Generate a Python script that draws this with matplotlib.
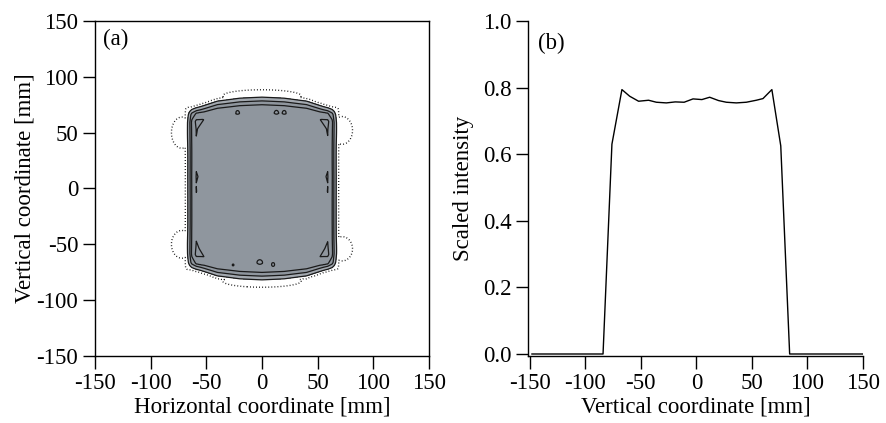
import matplotlib
matplotlib.use("Agg")
import matplotlib.pyplot as plt
import numpy as np

plt.rcParams['font.family'] = ['Liberation Serif', 'DejaVu Serif']
plt.rcParams['font.size'] = 16.5
plt.rcParams['axes.unicode_minus'] = False

# (b) vertical profile through the centre
prof_y = [-148, -84, -76, -67, -60, -52, -43, -36, -27, -19, -11, -3,
          5, 12, 20, 27, 36, 45, 54, 60, 68, 76, 84, 150]
prof_v = [0.0, 0.0, 0.63, 0.794, 0.774, 0.759, 0.762, 0.756, 0.754, 0.757,
          0.756, 0.766, 0.764, 0.771, 0.761, 0.756, 0.754, 0.756, 0.762,
          0.767, 0.794, 0.625, 0.0, 0.0]

# (a) horizontal edge profile and top/bottom bowing
hor_x = [-150, -69, -66, -63, -59, -52, -40, 0, 40, 52, 59, 63, 66, 69, 150]
hor_v = [0.0, 0.0, 0.25, 0.66, 0.80, 0.77, 0.76, 0.76, 0.76, 0.77, 0.80,
         0.66, 0.25, 0.0, 0.0]
bow_x = [-150, -64, -55, -40, -20, 0, 20, 40, 55, 64, 150]
bow_s = [0.87, 0.87, 0.90, 0.96, 0.99, 1.0, 0.99, 0.96, 0.90, 0.87, 0.87]

# weak halo lobes and small spots seen in the contour map
lobe_x = [-72, 72, -72, 72, 0, 0]
lobe_y = [50, 52, -50, -54, 83, -83]
lobe_sx = [6.0, 6.0, 6.0, 6.0, 26.0, 26.0]
lobe_sy = [9.0, 8.0, 8.0, 7.0, 4.0, 4.0]
lobe_a = [0.04, 0.04, 0.04, 0.04, 0.03, 0.03]
spot_x = [-22, 13, 20, -26, -2, 10]
spot_y = [69, 69, 69, -69, -66, -69]
spot_a = [0.08, 0.08, 0.08, 0.08, 0.08, 0.08]

grid = np.linspace(-150, 150, 601)
X, Y = np.meshgrid(grid, grid)
hx = np.interp(X, hor_x, hor_v)
sx = np.interp(X, bow_x, bow_s)
vy = np.interp(Y / sx, prof_y, prof_v)
field = hx * vy / 0.76
for lx, ly, wx, wy, la in zip(lobe_x, lobe_y, lobe_sx, lobe_sy, lobe_a):
    field += la * np.exp(-(X - lx) ** 2 / (2 * wx ** 2) - (Y - ly) ** 2 / (2 * wy ** 2))
for px, py, pa in zip(spot_x, spot_y, spot_a):
    field += pa * np.exp(-((X - px) ** 2 + (Y - py) ** 2) / (2 * 1.3 ** 2))

fig = plt.figure(figsize=(8.86, 4.23), dpi=100)
ax1 = fig.add_axes([0.1072, 0.1584, 0.3770, 0.7920])
ax2 = fig.add_axes([0.5960, 0.1584, 0.3780, 0.7920])

ax1.contourf(X, Y, field, levels=[0.2, 0.5, 10], colors=['#a3a9b0', '#8f969e'])
ax1.contour(X, Y, field, levels=[0.012], colors='k', linewidths=1.0,
            linestyles=[(0, (0.6, 1.6))])
ax1.contour(X, Y, field, levels=[0.2, 0.45, 0.65, 0.805], colors='#1a1a1a',
            linewidths=0.9, linestyles='solid')
ax1.set_xlim(-150, 150)
ax1.set_ylim(-150, 150)
ax1.set_xticks(np.arange(-150, 151, 50))
ax1.set_yticks(np.arange(-150, 151, 50))
ax1.set_xlabel('Horizontal coordinate [mm]', labelpad=2)
ax1.set_ylabel('Vertical coordinate [mm]', labelpad=1)
ax1.text(0.025, 0.975, '(a)', transform=ax1.transAxes, ha='left', va='top')

ax2.plot(prof_y, prof_v, color='k', lw=1.0)
ax2.set_xlim(-151.5, 150)
ax2.set_ylim(-0.006, 1.0)
ax2.set_xticks(np.arange(-150, 151, 50))
ax2.set_yticks(np.arange(0, 1.01, 0.2))
ax2.yaxis.set_major_formatter(plt.FormatStrFormatter('%.1f'))
ax2.spines['top'].set_visible(False)
ax2.spines['right'].set_visible(False)
ax2.set_xlabel('Vertical coordinate [mm]', labelpad=2)
ax2.set_ylabel('Scaled intensity', labelpad=6)
ax2.text(0.03, 0.965, '(b)', transform=ax2.transAxes, ha='left', va='top')

for ax in (ax1, ax2):
    ax.tick_params(direction='out', length=9, width=1, pad=3)
    for s in ax.spines.values():
        s.set_linewidth(1)

fig.savefig('out.png', dpi=100)
